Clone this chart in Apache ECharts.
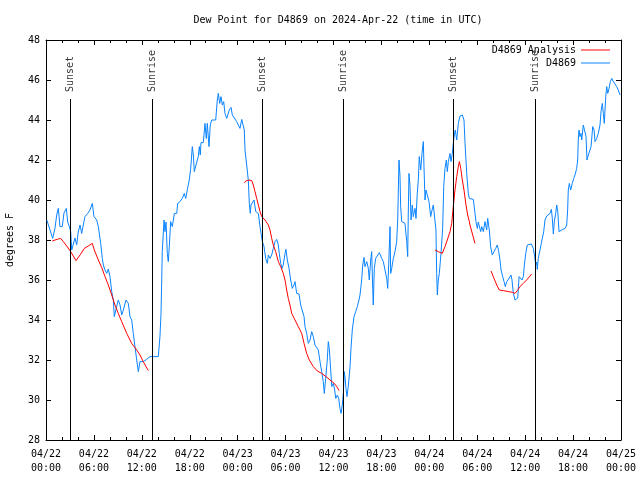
<!DOCTYPE html>
<html>
<head>
<meta charset="utf-8">
<script src="https://cdn.jsdelivr.net/npm/echarts@6/dist/echarts.min.js"></script>
<style>html,body{margin:0;padding:0;background:#fff}#c{width:640px;height:480px}</style>
</head>
<body>
<div id="c"></div>
<script>
// Hours since 2024-04-22 00:00 UTC
var dewHours = [0.1,0.84,1.13,1.34,1.54,1.75,2.04,2.25,2.54,2.72,2.92,3.09,3.22,3.42,3.63,3.84,4.04,4.26,4.47,4.67,4.88,5.22,5.51,5.80,6.01,6.35,6.55,6.85,7.05,7.18,7.39,7.60,7.80,8.01,8.23,8.43,8.55,8.85,9.05,9.27,9.48,9.68,10.02,10.31,10.52,10.73,10.93,11.14,11.36,11.56,11.77,12.18,12.61,13.02,14.06,14.27,14.40,14.49,14.56,14.78,14.90,15.03,15.19,15.31,15.44,15.61,15.82,16.07,16.37,16.49,16.78,17.07,17.32,17.49,17.69,17.94,18.12,18.32,18.45,18.57,18.78,18.95,19.07,19.20,19.32,19.41,19.70,19.91,20.07,20.20,20.41,20.57,20.75,21.00,21.25,21.45,21.58,21.75,21.91,22.08,22.25,22.41,22.63,22.83,22.95,23.17,23.33,23.58,23.88,24.08,24.29,24.51,24.71,24.83,24.92,25.13,25.33,25.46,25.58,25.67,25.83,26.05,26.26,26.59,26.80,26.93,27.09,27.30,27.51,27.71,27.84,28.05,28.26,28.46,28.68,28.89,29.09,29.21,29.39,29.55,29.71,29.93,30.05,30.22,30.43,30.64,30.84,31.05,31.18,31.39,31.68,31.89,32.14,32.31,32.43,32.64,32.85,33.06,33.27,33.47,33.68,33.90,34.10,34.31,34.52,34.72,34.85,35.02,35.22,35.35,35.47,35.65,35.78,35.98,36.15,36.28,36.48,36.65,36.81,36.94,37.10,37.23,37.35,37.48,37.56,37.69,37.85,38.07,38.19,38.35,38.57,38.78,38.98,39.19,39.32,39.53,39.66,39.82,39.94,40.16,40.36,40.48,40.66,40.78,40.91,40.98,41.11,41.28,41.48,41.74,42.04,42.24,42.45,42.66,42.79,42.91,43.08,43.16,43.29,43.49,43.70,43.91,44.04,44.20,44.33,44.41,44.54,44.95,45.17,45.29,45.37,45.45,45.58,45.71,45.87,45.99,46.21,46.33,46.49,46.62,46.74,46.92,47.08,47.25,47.33,47.46,47.58,47.75,47.96,48.17,48.34,48.50,48.71,48.83,48.92,49.00,49.12,49.25,49.46,49.67,49.80,49.96,50.13,50.25,50.38,50.59,50.71,50.88,51.00,51.13,51.25,51.43,51.63,51.84,52.13,52.34,52.47,52.68,52.88,53.01,53.51,53.72,53.84,54.01,54.13,54.25,54.43,54.56,54.76,54.97,55.18,55.31,55.51,55.68,55.88,56.10,56.31,56.51,56.69,56.85,56.98,57.19,57.35,57.51,57.69,57.89,58.10,58.23,58.35,58.52,58.73,58.94,59.07,59.24,59.44,59.61,59.77,59.90,60.07,60.27,60.52,60.77,61.02,61.19,61.32,61.44,61.52,61.64,61.86,62.02,62.20,62.32,62.48,62.70,62.90,63.11,63.28,63.40,63.53,63.65,63.82,63.95,64.08,64.24,64.45,64.70,64.99,65.20,65.32,65.40,65.53,65.70,65.90,66.08,66.24,66.45,66.58,66.65,66.74,66.86,66.99,67.08,67.28,67.49,67.62,67.74,67.91,68.12,68.25,68.46,68.63,68.75,68.96,69.16,69.37,69.50,69.66,69.79,69.91,70.09,70.21,70.34,70.50,70.66,70.84,71.04,71.25,71.46,71.66,71.87];
var dewValues = [39.0,38.08,38.6,39.25,39.58,38.67,38.67,39.35,39.58,38.9,38.67,38.42,37.5,37.6,38.1,37.75,38.4,38.75,38.33,38.75,39.17,39.33,39.5,39.83,39.17,39.0,38.67,37.83,37.08,36.75,36.5,36.33,36.55,36.17,35.42,35.0,34.17,34.67,35.0,34.75,34.25,34.5,35.0,34.83,34.17,34.0,33.33,32.67,32.0,31.42,31.92,31.92,32.03,32.17,32.17,33.17,34.33,36.0,37.42,39.0,38.42,38.9,37.33,36.92,37.67,38.92,38.67,39.33,39.33,39.83,39.92,40.08,40.33,40.08,40.5,41.0,41.58,42.67,42.25,41.42,41.75,42.0,42.17,42.67,42.25,42.87,42.87,43.83,43.08,43.83,42.67,43.75,44.0,43.92,44.0,45.0,45.33,44.83,45.17,44.75,44.92,44.33,44.08,44.17,44.5,44.63,44.25,44.17,43.92,43.75,43.58,44.03,44.0,43.5,42.5,41.75,41.0,39.83,39.33,39.75,39.83,40.0,39.42,39.33,38.67,38.33,37.92,37.67,37.08,36.83,37.25,37.08,37.25,37.58,37.92,38.03,37.75,37.33,36.83,36.58,36.75,37.33,37.53,37.0,36.58,36.0,35.58,35.75,35.92,35.33,35.3,34.75,34.72,34.17,33.67,33.33,32.83,33.0,33.42,33.17,32.75,32.83,32.5,31.92,31.42,30.92,30.33,31.08,32.0,32.92,32.58,31.5,30.67,30.83,30.5,30.08,30.25,30.08,29.58,29.33,29.75,30.33,31.42,31.0,30.58,30.17,30.67,31.67,32.58,33.5,34.17,34.42,34.67,35.0,35.25,36.0,36.75,37.13,36.67,36.92,36.58,36.0,37.0,37.42,35.58,34.75,36.58,37.08,37.17,37.37,37.08,36.92,37.0,36.08,35.58,36.75,38.67,36.33,36.58,37.08,37.42,37.92,39.0,42.0,41.17,39.67,38.92,38.83,37.92,37.17,39.5,41.33,40.67,39.0,39.75,39.17,39.58,39.08,40.33,41.0,42.17,41.5,42.33,42.92,41.67,40.0,40.5,40.25,39.92,39.17,39.5,39.75,39.67,38.5,36.33,35.25,36.0,36.33,37.33,38.58,40.67,41.58,42.0,41.42,41.92,42.33,41.92,42.33,42.83,43.25,43.5,43.0,43.83,44.2,44.25,44.0,42.83,41.33,40.33,40.08,40.03,39.33,38.92,38.58,38.9,39.0,38.42,38.67,38.42,38.92,38.5,39.08,38.5,37.67,37.25,37.42,37.58,37.75,37.42,37.0,36.5,36.17,35.92,35.67,35.92,36.03,36.0,36.25,36.0,35.33,35.0,34.92,35.1,36.17,36.25,36.0,36.17,36.75,37.33,37.75,37.83,37.8,37.58,37.17,36.75,36.9,36.53,37.08,37.5,37.83,37.87,38.42,39.0,39.2,39.25,39.33,39.53,39.08,38.3,38.92,39.33,39.75,39.42,38.42,38.5,38.53,38.58,38.75,39.5,40.5,40.83,40.5,40.83,41.08,41.25,41.58,42.0,43.0,43.5,43.17,43.33,43.0,43.75,43.8,43.17,42.0,42.25,42.33,42.67,43.67,43.5,42.92,43.08,43.33,43.75,44.42,44.83,44.33,43.83,45.17,45.67,45.33,45.58,45.92,46.08,45.92,45.83,45.67,45.5,45.25];

// Analysis (null = gap between runs)
var anaHours = [0.79,1.13,1.54,1.84,2.17,2.59,3.09,3.42,3.76,4.26,4.80,5.30,5.80,6.05,6.55,6.97,7.39,7.80,8.23,8.64,9.05,9.48,10.11,10.73,11.36,11.77,12.18,12.52,12.81,
  18.0,
  24.83,25.13,25.42,25.76,25.96,26.17,26.38,26.59,26.80,27.01,27.42,27.84,28.05,28.26,28.46,28.76,29.09,29.39,29.71,29.93,30.14,30.34,30.55,30.77,31.18,31.59,32.02,32.31,32.64,32.97,33.47,33.97,34.52,35.06,35.56,36.10,36.48,36.69,
  42.0,
  48.71,49.12,49.62,49.96,50.25,50.59,50.80,51.00,51.21,51.43,51.63,51.76,51.93,52.13,52.34,52.59,52.80,53.01,53.09,53.43,53.72,
  54.7,
  55.72,56.10,56.44,56.76,57.26,57.89,58.44,58.73,59.02,59.35,59.77,60.19,60.82];
var anaValues = [37.95,38.0,38.05,38.08,37.92,37.7,37.42,37.2,36.97,37.25,37.58,37.7,37.83,37.5,37.0,36.63,36.17,35.75,35.25,34.75,34.33,33.92,33.33,32.83,32.5,32.25,31.92,31.67,31.47,
  null,
  40.87,40.97,41.0,40.97,40.75,40.42,40.08,39.75,39.42,39.17,39.0,38.75,38.5,38.08,37.75,37.42,36.92,36.67,36.33,36.0,35.5,35.08,34.75,34.33,34.0,33.67,33.33,32.83,32.33,32.0,31.67,31.45,31.33,31.17,31.0,30.83,30.63,30.47,
  null,
  37.5,37.42,37.33,37.67,38.0,38.42,38.83,39.67,40.5,41.17,41.67,41.92,41.58,41.0,40.5,39.75,39.25,38.92,38.75,38.25,37.83,
  null,
  36.45,36.08,35.75,35.5,35.47,35.42,35.38,35.33,35.47,35.67,35.83,36.0,36.3];

var sunHours = [3.04, 13.31, 27.09, 37.23, 51.0, 61.27];
var sunLabels = ['Sunset', 'Sunrise', 'Sunset', 'Sunrise', 'Sunset', 'Sunrise'];
var sunLineTop = 45.05;
var sunLabelAt = 45.4;

var xTickLabels = ['04/22\n00:00','04/22\n06:00','04/22\n12:00','04/22\n18:00','04/23\n00:00','04/23\n06:00','04/23\n12:00','04/23\n18:00','04/24\n00:00','04/24\n06:00','04/24\n12:00','04/24\n18:00','04/25\n00:00'];
var yTicks = [28,30,32,34,36,38,40,42,44,46,48];

var FONT = 'DejaVu Sans Mono';
var chart = echarts.init(document.getElementById('c'), null, {renderer: 'canvas'});

var dewData = dewHours.map(function (h, i) { return [h, dewValues[i]]; });
var anaData = anaHours.map(function (h, i) { return [h, anaValues[i] == null ? '-' : anaValues[i]]; });
var sunMarks = sunHours.map(function (h) { return [{coord: [h, yTicks[0]]}, {coord: [h, sunLineTop]}]; });
var sunLabelData = sunHours.map(function (h, i) { return {value: [h, sunLabelAt], name: sunLabels[i]}; });

function xAxisBase(pos, showLabel) {
  return {
    type: 'value', position: pos, min: 0, max: 72, interval: 6,
    axisLine: {show: true, onZero: false, lineStyle: {color: '#000', width: 1}},
    axisTick: {show: true, inside: true, length: 5, lineStyle: {color: '#000'}},
    minorTick: {show: true, splitNumber: 3, length: 3, lineStyle: {color: '#000'}},
    splitLine: {show: false},
    axisLabel: {show: showLabel, fontFamily: FONT, fontSize: 10, color: '#000', lineHeight: 14, margin: 7,
      formatter: function (v) { return xTickLabels[Math.round(v / 6)]; }}
  };
}
function yAxisBase(pos, showLabel) {
  return {
    type: 'value', position: pos, min: 28, max: 48, interval: 2,
    axisLine: {show: true, onZero: false, lineStyle: {color: '#000', width: 1}},
    axisTick: {show: true, inside: true, length: 5, lineStyle: {color: '#000'}},
    splitLine: {show: false},
    axisLabel: {show: showLabel, fontFamily: FONT, fontSize: 10, color: '#000', margin: 6}
  };
}

var yLeft = yAxisBase('left', true);
yLeft.name = 'degrees F';
yLeft.nameLocation = 'middle';
yLeft.nameGap = 31;
yLeft.nameRotate = 90;
yLeft.nameTextStyle = {fontFamily: FONT, fontSize: 10, color: '#000'};

chart.setOption({
  animation: false,
  backgroundColor: '#fff',
  title: {
    text: 'Dew Point for D4869 on 2024-Apr-22 (time in UTC)',
    left: 333, top: 10, textAlign: 'center',
    textStyle: {fontFamily: FONT, fontSize: 10, fontWeight: 'normal', color: '#000'}
  },
  grid: {left: 46, right: 19, top: 40, bottom: 40, containLabel: false, outerBoundsMode: 'none'},
  legend: {
    data: [{name: 'D4869 Analysis', icon: 'rect'}, {name: 'D4869', icon: 'rect'}],
    orient: 'vertical', right: 30, top: 44, align: 'right', padding: 0,
    itemWidth: 29, itemHeight: 1, itemGap: 1,
    textStyle: {fontFamily: FONT, fontSize: 10, color: '#000', lineHeight: 12}
  },
  xAxis: [xAxisBase('bottom', true), xAxisBase('top', false)],
  yAxis: [yLeft, yAxisBase('right', false)],
  series: [
    {
      name: 'D4869 Analysis', type: 'line', data: anaData, symbol: 'none',
      connectNulls: false, lineStyle: {color: '#ff0000', width: 1}, itemStyle: {color: '#ff0000'}, z: 3
    },
    {
      name: 'D4869', type: 'line', data: dewData, symbol: 'none',
      lineStyle: {color: '#0a84ff', width: 1}, itemStyle: {color: '#0a84ff'}, z: 2,
      markLine: {
        silent: true, symbol: ['none', 'none'],
        lineStyle: {color: '#000', width: 1, type: 'solid'},
        label: {show: false}, data: sunMarks
      }
    },
    {
      name: 'sun', type: 'scatter', data: sunLabelData, symbolSize: 0, silent: true,
      label: {
        show: true, position: 'inside', rotate: 90, align: 'left', verticalAlign: 'middle',
        fontFamily: FONT, fontSize: 10, color: '#000',
        formatter: function (p) { return p.name; }
      }
    }
  ]
});
</script>
</body>
</html>
